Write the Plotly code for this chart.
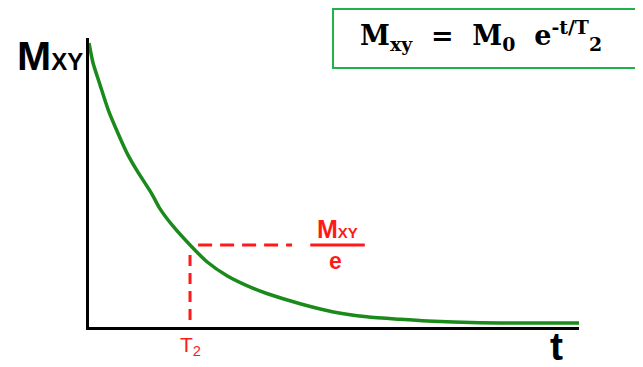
import plotly.graph_objects as go

# 時間 (T2 単位) と Mxy (M0 単位) を図から読み取り
t_vals = [0.0, 0.04, 0.11, 0.19, 0.29, 0.38, 0.48, 0.62, 0.70, 0.83, 1.0, 1.17,
          1.37, 1.62, 1.76, 2.09, 2.42, 2.75, 3.08, 3.35, 3.87, 4.85]
mxy_vals = [1.0, 0.93, 0.852, 0.765, 0.68, 0.61, 0.548, 0.47, 0.418, 0.356, 0.289, 0.229,
            0.18, 0.137, 0.118, 0.082, 0.053, 0.036, 0.027, 0.021, 0.015, 0.014]

t2 = 1.0
m_at_t2 = 0.289
h_dash_start = 1.08
h_dash_end = 2.01
v_dash_top = 0.254
frac_x = [2.19, 2.73]

red = '#ff1a1a'

fig = go.Figure()

# 減衰曲線
fig.add_trace(go.Scatter(x=t_vals, y=mxy_vals, mode='lines',
                         line=dict(color='#1a8a1a', width=3.5, shape='spline', smoothing=0.6),
                         hoverinfo='skip'))

# T2 の破線
fig.add_trace(go.Scatter(x=[t2, t2], y=[v_dash_top, 0], mode='lines',
                         line=dict(color=red, width=3, dash='11px,7px'),
                         hoverinfo='skip'))
fig.add_trace(go.Scatter(x=[h_dash_start, h_dash_end], y=[m_at_t2, m_at_t2], mode='lines',
                         line=dict(color=red, width=3, dash='14px,8px'),
                         hoverinfo='skip'))

# 分数線
fig.add_trace(go.Scatter(x=frac_x, y=[m_at_t2, m_at_t2], mode='lines',
                         line=dict(color=red, width=3), hoverinfo='skip'))

fig.add_annotation(x=sum(frac_x) / 2, y=m_at_t2, showarrow=False,
                   text="<b>M<span style='font-size:15px'>XY</span></b>",
                   yanchor='bottom', yshift=0,
                   font=dict(family='Liberation Sans, Arial', size=25, color=red))
fig.add_annotation(x=sum(frac_x) / 2 - 0.02, y=m_at_t2, text='<b>e</b>', showarrow=False,
                   yanchor='top', yshift=-1,
                   font=dict(family='Liberation Sans, Arial', size=23, color=red))
fig.add_annotation(x=t2, y=0, text='T<sub>2</sub>', showarrow=False,
                   yanchor='top', yshift=-4,
                   font=dict(family='Liberation Sans, Arial', size=21, color=red))

# 軸ラベル
fig.add_annotation(xref='paper', yref='paper', x=-0.008, y=1.025, xanchor='right', yanchor='top',
                   text="<b>M<span style='font-size:24px'>XY</span></b>", showarrow=False,
                   font=dict(family='Liberation Sans, Arial', size=41, color='black'))
fig.add_annotation(xref='paper', yref='paper', x=0.955, y=0.0, xanchor='center', yanchor='top',
                   text='<b>t</b>', showarrow=False, yshift=4,
                   font=dict(family='Liberation Sans, Arial', size=39, color='black'))

# 式の枠
fig.add_shape(type='rect', xref='paper', yref='paper', x0=0.498, x1=1.12, y0=0.896, y1=1.10,
              line=dict(color='#22b04c', width=2), fillcolor='white', layer='above')
fig.add_annotation(xref='paper', yref='paper', x=0.8, y=1.01, xanchor='center', yanchor='middle',
                   text='<b>M<sub>xy</sub>&nbsp; = &nbsp;M<sub>0</sub>&nbsp; e<sup>-t/T</sup><sub>2</sub></b>',
                   showarrow=False,
                   font=dict(family='DejaVu Serif', size=27, color='black'))

fig.update_xaxes(range=[0, 4.85], showline=True, linecolor='black', linewidth=3,
                 showgrid=False, zeroline=False, showticklabels=False, ticks='')
fig.update_yaxes(range=[0, 1.018], showline=True, linecolor='black', linewidth=3,
                 showgrid=False, zeroline=False, showticklabels=False, ticks='')

# ページ余白 (8px) を差し引いた配置
fig.update_layout(width=635, height=359, autosize=False, showlegend=False,
                  margin=dict(l=81, r=64, t=30, b=40),
                  plot_bgcolor='white', paper_bgcolor='white')

fig.write_html("out.html")
